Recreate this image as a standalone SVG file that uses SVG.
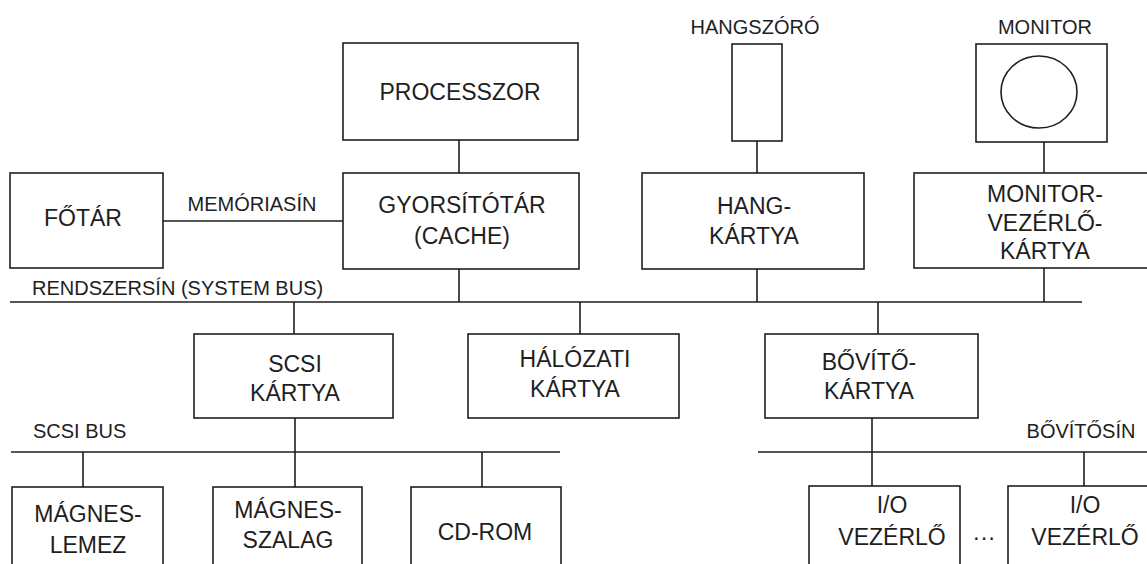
<svg xmlns="http://www.w3.org/2000/svg" width="1147" height="564" viewBox="0 0 1147 564">
<style>
.b{fill:none;stroke:#1e1e1e;stroke-width:1.6}
.l{stroke:#1e1e1e;stroke-width:1.6;fill:none}
.t{font-family:"Liberation Sans",Arial,sans-serif;font-size:23px;fill:#1e1e1e;text-anchor:middle}
.s{font-family:"Liberation Sans",Arial,sans-serif;font-size:20px;fill:#1e1e1e}
</style>
<rect width="1147" height="564" fill="#ffffff"/>
<g id="connectors">
<line class="l" x1="10" y1="302" x2="1082" y2="302"/>
<line class="l" x1="163" y1="221" x2="343" y2="221"/>
<line class="l" x1="459" y1="140" x2="459" y2="173"/>
<line class="l" x1="459" y1="269" x2="459" y2="302"/>
<line class="l" x1="757" y1="141" x2="757" y2="173"/>
<line class="l" x1="757" y1="269" x2="757" y2="302"/>
<line class="l" x1="1044" y1="142" x2="1044" y2="173"/>
<line class="l" x1="1044" y1="268" x2="1044" y2="302"/>
<line class="l" x1="294" y1="302" x2="294" y2="334"/>
<line class="l" x1="580" y1="302" x2="580" y2="334"/>
<line class="l" x1="878" y1="302" x2="878" y2="334"/>
<line class="l" x1="11" y1="452" x2="560" y2="452"/>
<line class="l" x1="295" y1="418" x2="295" y2="487"/>
<line class="l" x1="83" y1="452" x2="83" y2="487"/>
<line class="l" x1="482" y1="452" x2="482" y2="487"/>
<line class="l" x1="758" y1="452" x2="1147" y2="452"/>
<line class="l" x1="872" y1="418" x2="872" y2="486"/>
<line class="l" x1="1084" y1="452" x2="1084" y2="486"/>
</g>
<g id="label-memoriasin"><text class="s" x="252" y="211" text-anchor="middle">MEMÓRIASÍN</text></g>
<g id="label-rendszersin"><text class="s" x="32" y="295">RENDSZERSÍN (SYSTEM BUS)</text></g>
<g id="label-scsibus"><text class="s" x="33" y="438">SCSI BUS</text></g>
<g id="label-bovitosin"><text class="s" x="1081" y="438" text-anchor="middle">BŐVÍTŐSÍN</text></g>
<g id="processzor"><rect class="b" x="343" y="43" width="235" height="97"/><text class="t" x="460" y="100">PROCESSZOR</text></g>
<g id="fotar"><rect class="b" x="10" y="173" width="153" height="95"/><text class="t" x="83" y="226">FŐTÁR</text></g>
<g id="cache"><rect class="b" x="343" y="173" width="236" height="96"/><text class="t" x="462" y="213">GYORSÍTÓTÁR</text><text class="t" x="462" y="244">(CACHE)</text></g>
<g id="hangszoro"><text class="s" x="755" y="34" text-anchor="middle">HANGSZÓRÓ</text><rect class="b" x="732" y="44" width="50" height="97"/></g>
<g id="hangkartya"><rect class="b" x="642" y="173" width="222" height="96"/><text class="t" x="754" y="214">HANG-</text><text class="t" x="754" y="244">KÁRTYA</text></g>
<g id="monitor"><text class="s" x="1045" y="34" text-anchor="middle">MONITOR</text><rect class="b" x="976" y="44" width="131" height="98"/><ellipse class="b" cx="1039" cy="92" rx="38" ry="36"/></g>
<g id="monitorkartya"><rect class="b" x="914" y="173" width="240" height="95"/><text class="t" x="1045" y="202">MONITOR-</text><text class="t" x="1045" y="231">VEZÉRLŐ-</text><text class="t" x="1045" y="259">KÁRTYA</text></g>
<g id="scsikartya"><rect class="b" x="194" y="334" width="199" height="84"/><text class="t" x="295" y="372">SCSI</text><text class="t" x="295" y="401">KÁRTYA</text></g>
<g id="halozati"><rect class="b" x="468" y="334" width="211" height="84"/><text class="t" x="575" y="367">HÁLÓZATI</text><text class="t" x="575" y="397">KÁRTYA</text></g>
<g id="bovito"><rect class="b" x="765" y="334" width="213" height="84"/><text class="t" x="869" y="370">BŐVÍTŐ-</text><text class="t" x="869" y="399">KÁRTYA</text></g>
<g id="magneslemez"><rect class="b" x="12" y="487" width="151" height="90"/><text class="t" x="88" y="522">MÁGNES-</text><text class="t" x="88" y="553">LEMEZ</text></g>
<g id="magnesszalag"><rect class="b" x="213" y="487" width="149" height="90"/><text class="t" x="288" y="518">MÁGNES-</text><text class="t" x="288" y="548">SZALAG</text></g>
<g id="cdrom"><rect class="b" x="411" y="487" width="150" height="90"/><text class="t" x="485" y="540">CD-ROM</text></g>
<g id="io1"><rect class="b" x="809" y="486" width="151" height="90"/><text class="t" x="892" y="513">I/O</text><text class="t" x="892" y="545">VEZÉRLŐ</text></g>
<g id="dots"><text class="t" x="984" y="545">···</text></g>
<g id="io2"><rect class="b" x="1008" y="486" width="150" height="90"/><text class="t" x="1085" y="513">I/O</text><text class="t" x="1085" y="545">VEZÉRLŐ</text></g>
</svg>
